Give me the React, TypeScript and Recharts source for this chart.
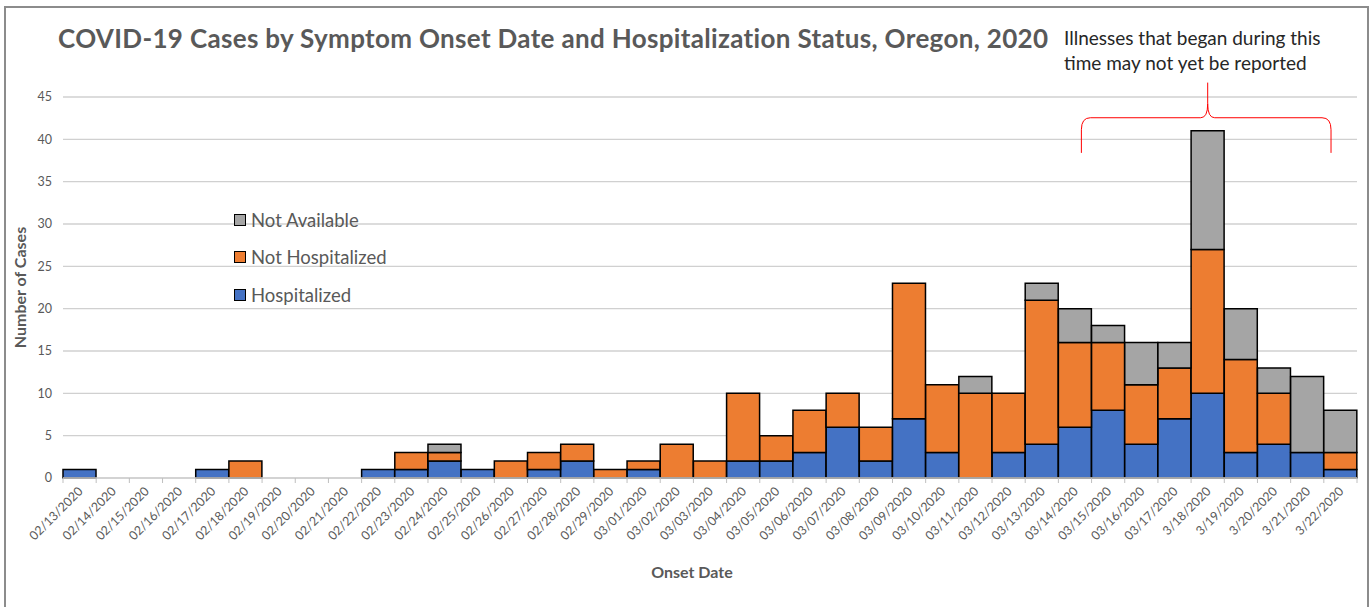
import React from 'react';
import { BarChart, Bar, XAxis, YAxis, CartesianGrid, Legend, ReferenceArea } from 'recharts';

const dates = [
  '02/13/2020', '02/14/2020', '02/15/2020', '02/16/2020', '02/17/2020', '02/18/2020', '02/19/2020',
  '02/20/2020', '02/21/2020', '02/22/2020', '02/23/2020', '02/24/2020', '02/25/2020', '02/26/2020',
  '02/27/2020', '02/28/2020', '02/29/2020', '03/01/2020', '03/02/2020', '03/03/2020', '03/04/2020',
  '03/05/2020', '03/06/2020', '03/07/2020', '03/08/2020', '03/09/2020', '03/10/2020', '03/11/2020',
  '03/12/2020', '03/13/2020', '03/14/2020', '03/15/2020', '03/16/2020', '03/17/2020', '3/18/2020',
  '3/19/2020', '3/20/2020', '3/21/2020', '3/22/2020',
];
const hospitalized = [1, 0, 0, 0, 1, 0, 0, 0, 0, 1, 1, 2, 1, 0, 1, 2, 0, 1, 0, 0, 2, 2, 3, 6, 2, 7, 3, 0, 3, 4, 6, 8, 4, 7, 10, 3, 4, 3, 1];
const notHospitalized = [0, 0, 0, 0, 0, 2, 0, 0, 0, 0, 2, 1, 0, 2, 2, 2, 1, 1, 4, 2, 8, 3, 5, 4, 4, 16, 8, 10, 7, 17, 10, 8, 7, 6, 17, 11, 6, 0, 2];
const notAvailable = [0, 0, 0, 0, 0, 0, 0, 0, 0, 0, 0, 1, 0, 0, 0, 0, 0, 0, 0, 0, 0, 0, 0, 0, 0, 0, 0, 2, 0, 2, 4, 2, 5, 3, 14, 6, 3, 9, 5];
const yTicks = [0, 5, 10, 15, 20, 25, 30, 35, 40, 45];
const legendOrder = ['Not Available', 'Not Hospitalized', 'Hospitalized'];

// window of recent onset dates that may still be under-reported
const lagStart = '03/14/2020';
const lagEnd = '3/22/2020';

const W = 1372;
const H = 607;
const Y_AXIS_W = 63;
const RIGHT = 15;
const HALF_BAND = (W - Y_AXIS_W - RIGHT) / dates.length / 2;

const FONT = 'Lato, "Open Sans", sans-serif';
const GREY_TEXT = '#595959';

const data = dates.map((d, i) => ({
  date: d,
  hosp: hospitalized[i],
  notHosp: notHospitalized[i],
  na: notAvailable[i],
}));

const DateTick = (props: any) => {
  const { x, y, payload, index } = props;
  const last = index === dates.length - 1;
  return (
    <g transform={`translate(${x},${y})`}>
      <line x1={-HALF_BAND} x2={-HALF_BAND} y1={0} y2={5} stroke="#bfbfbf" />
      {last && <line x1={HALF_BAND} x2={HALF_BAND} y1={0} y2={5} stroke="#bfbfbf" />}
      <text
        x={0}
        y={0}
        transform="translate(4,14) rotate(-45)"
        textAnchor="end"
        fill={GREY_TEXT}
        fontSize={12.5}
        fontFamily={FONT}
      >
        {payload.value}
      </text>
    </g>
  );
};

const LegendBox = (props: any) => {
  const items = [...(props.payload || [])].sort(
    (a: any, b: any) => legendOrder.indexOf(a.value) - legendOrder.indexOf(b.value)
  );
  return (
    <div style={{ fontFamily: FONT }}>
      {items.map((it: any) => (
        <div key={it.value} style={{ display: 'flex', alignItems: 'center', height: 37.5 }}>
          <span
            style={{
              width: 10,
              height: 10,
              background: it.color,
              border: '1.5px solid #000',
              marginRight: 5,
            }}
          />
          <span style={{ color: GREY_TEXT, fontSize: 18.5 }}>{it.value}</span>
        </div>
      ))}
    </div>
  );
};

const Brace = (props: any) => {
  const { x, y, width, height } = props;
  const L = x + width * 0.077;
  const R = x + width * 0.913;
  const C = x + width / 2;
  const T = y;
  const M = y + height / 2;
  const B = y + height;
  const d = [
    `M${L},${B} L${L},${M + 12} Q${L},${M} ${L + 9},${M} L${C - 7},${M} Q${C},${M} ${C},${M - 14} L${C},${T}`,
    `M${C},${M - 14} Q${C},${M} ${C + 7},${M} L${R - 9},${M} Q${R},${M} ${R},${M + 12} L${R},${B}`,
  ].join(' ');
  return <path d={d} fill="none" stroke="#ff0000" strokeWidth={1} />;
};

export default function App() {
  return (
    <div style={{ position: 'absolute', left: 0, top: 0, width: W, height: H, background: '#fff', overflow: 'hidden' }}>
      <div
        style={{
          position: 'absolute',
          left: 4,
          top: 6,
          width: W - 7,
          height: H + 10,
          border: '2px solid #8c8c8c',
          boxSizing: 'border-box',
        }}
      />
      <div
        style={{
          position: 'absolute',
          left: 58,
          top: 22,
          fontFamily: FONT,
          fontWeight: 700,
          fontSize: 26,
          letterSpacing: 0.33,
          color: GREY_TEXT,
          whiteSpace: 'nowrap',
        }}
      >
        COVID-19 Cases by Symptom Onset Date and Hospitalization Status, Oregon, 2020
      </div>
      <div
        style={{
          position: 'absolute',
          left: 1064,
          top: 25,
          fontFamily: FONT,
          fontSize: 19,
          lineHeight: '25px',
          color: '#262626',
          whiteSpace: 'nowrap',
        }}
      >
        Illnesses that began during this
        <br />
        time may not yet be reported
      </div>
      <BarChart
        width={W}
        height={H}
        data={data}
        margin={{ top: 97, right: RIGHT, bottom: 0, left: 0 }}
        barCategoryGap={0}
        barGap={0}
        style={{ position: 'absolute', left: 0, top: 0 }}
      >
        <CartesianGrid vertical={false} stroke="#d0d0d0" strokeWidth={1.3} />
        <XAxis
          dataKey="date"
          interval={0}
          height={H - 478}
          tickLine={false}
          tickSize={0}
          tickMargin={0}
          axisLine={{ stroke: '#d0d0d0', strokeWidth: 1.5 }}
          tick={<DateTick />}
          label={{
            content: (p: any) => {
              const vb = p.viewBox;
              return (
                <text
                  x={vb.x + vb.width / 2 - 18}
                  y={578}
                  textAnchor="middle"
                  fill={GREY_TEXT}
                  fontSize={16}
                  fontWeight={700}
                  fontFamily={FONT}
                >
                  Onset Date
                </text>
              );
            },
          }}
        />
        <YAxis
          width={Y_AXIS_W}
          domain={[0, 45]}
          ticks={yTicks}
          interval={0}
          axisLine={false}
          tickLine={false}
          tickMargin={5}
          tick={{ fill: GREY_TEXT, fontSize: 12.5, fontFamily: FONT }}
          label={{
            content: (p: any) => {
              const vb = p.viewBox;
              const cx = 19;
              const cy = vb.y + vb.height / 2;
              return (
                <text
                  x={cx}
                  y={cy}
                  transform={`rotate(-90 ${cx} ${cy})`}
                  textAnchor="middle"
                  dominantBaseline="central"
                  fill={GREY_TEXT}
                  fontSize={16}
                  fontWeight={700}
                  fontFamily={FONT}
                >
                  Number of Cases
                </text>
              );
            },
          }}
        />
        <Legend
          layout="vertical"
          align="center"
          verticalAlign="middle"
          content={<LegendBox />}
          wrapperStyle={{ position: 'absolute', left: 234, top: 201, width: 220 }}
        />
        <Bar dataKey="hosp" name="Hospitalized" stackId="s" fill="#4472C4" stroke="#000" strokeWidth={1.5} isAnimationActive={false} />
        <Bar dataKey="notHosp" name="Not Hospitalized" stackId="s" fill="#ED7D31" stroke="#000" strokeWidth={1.5} isAnimationActive={false} />
        <Bar dataKey="na" name="Not Available" stackId="s" fill="#A5A5A5" stroke="#000" strokeWidth={1.5} isAnimationActive={false} />
        <ReferenceArea
          x1={lagStart}
          x2={lagEnd}
          y1={38.4}
          y2={46.7}
          ifOverflow="visible"
          shape={<Brace />}
        />
      </BarChart>
    </div>
  );
}
